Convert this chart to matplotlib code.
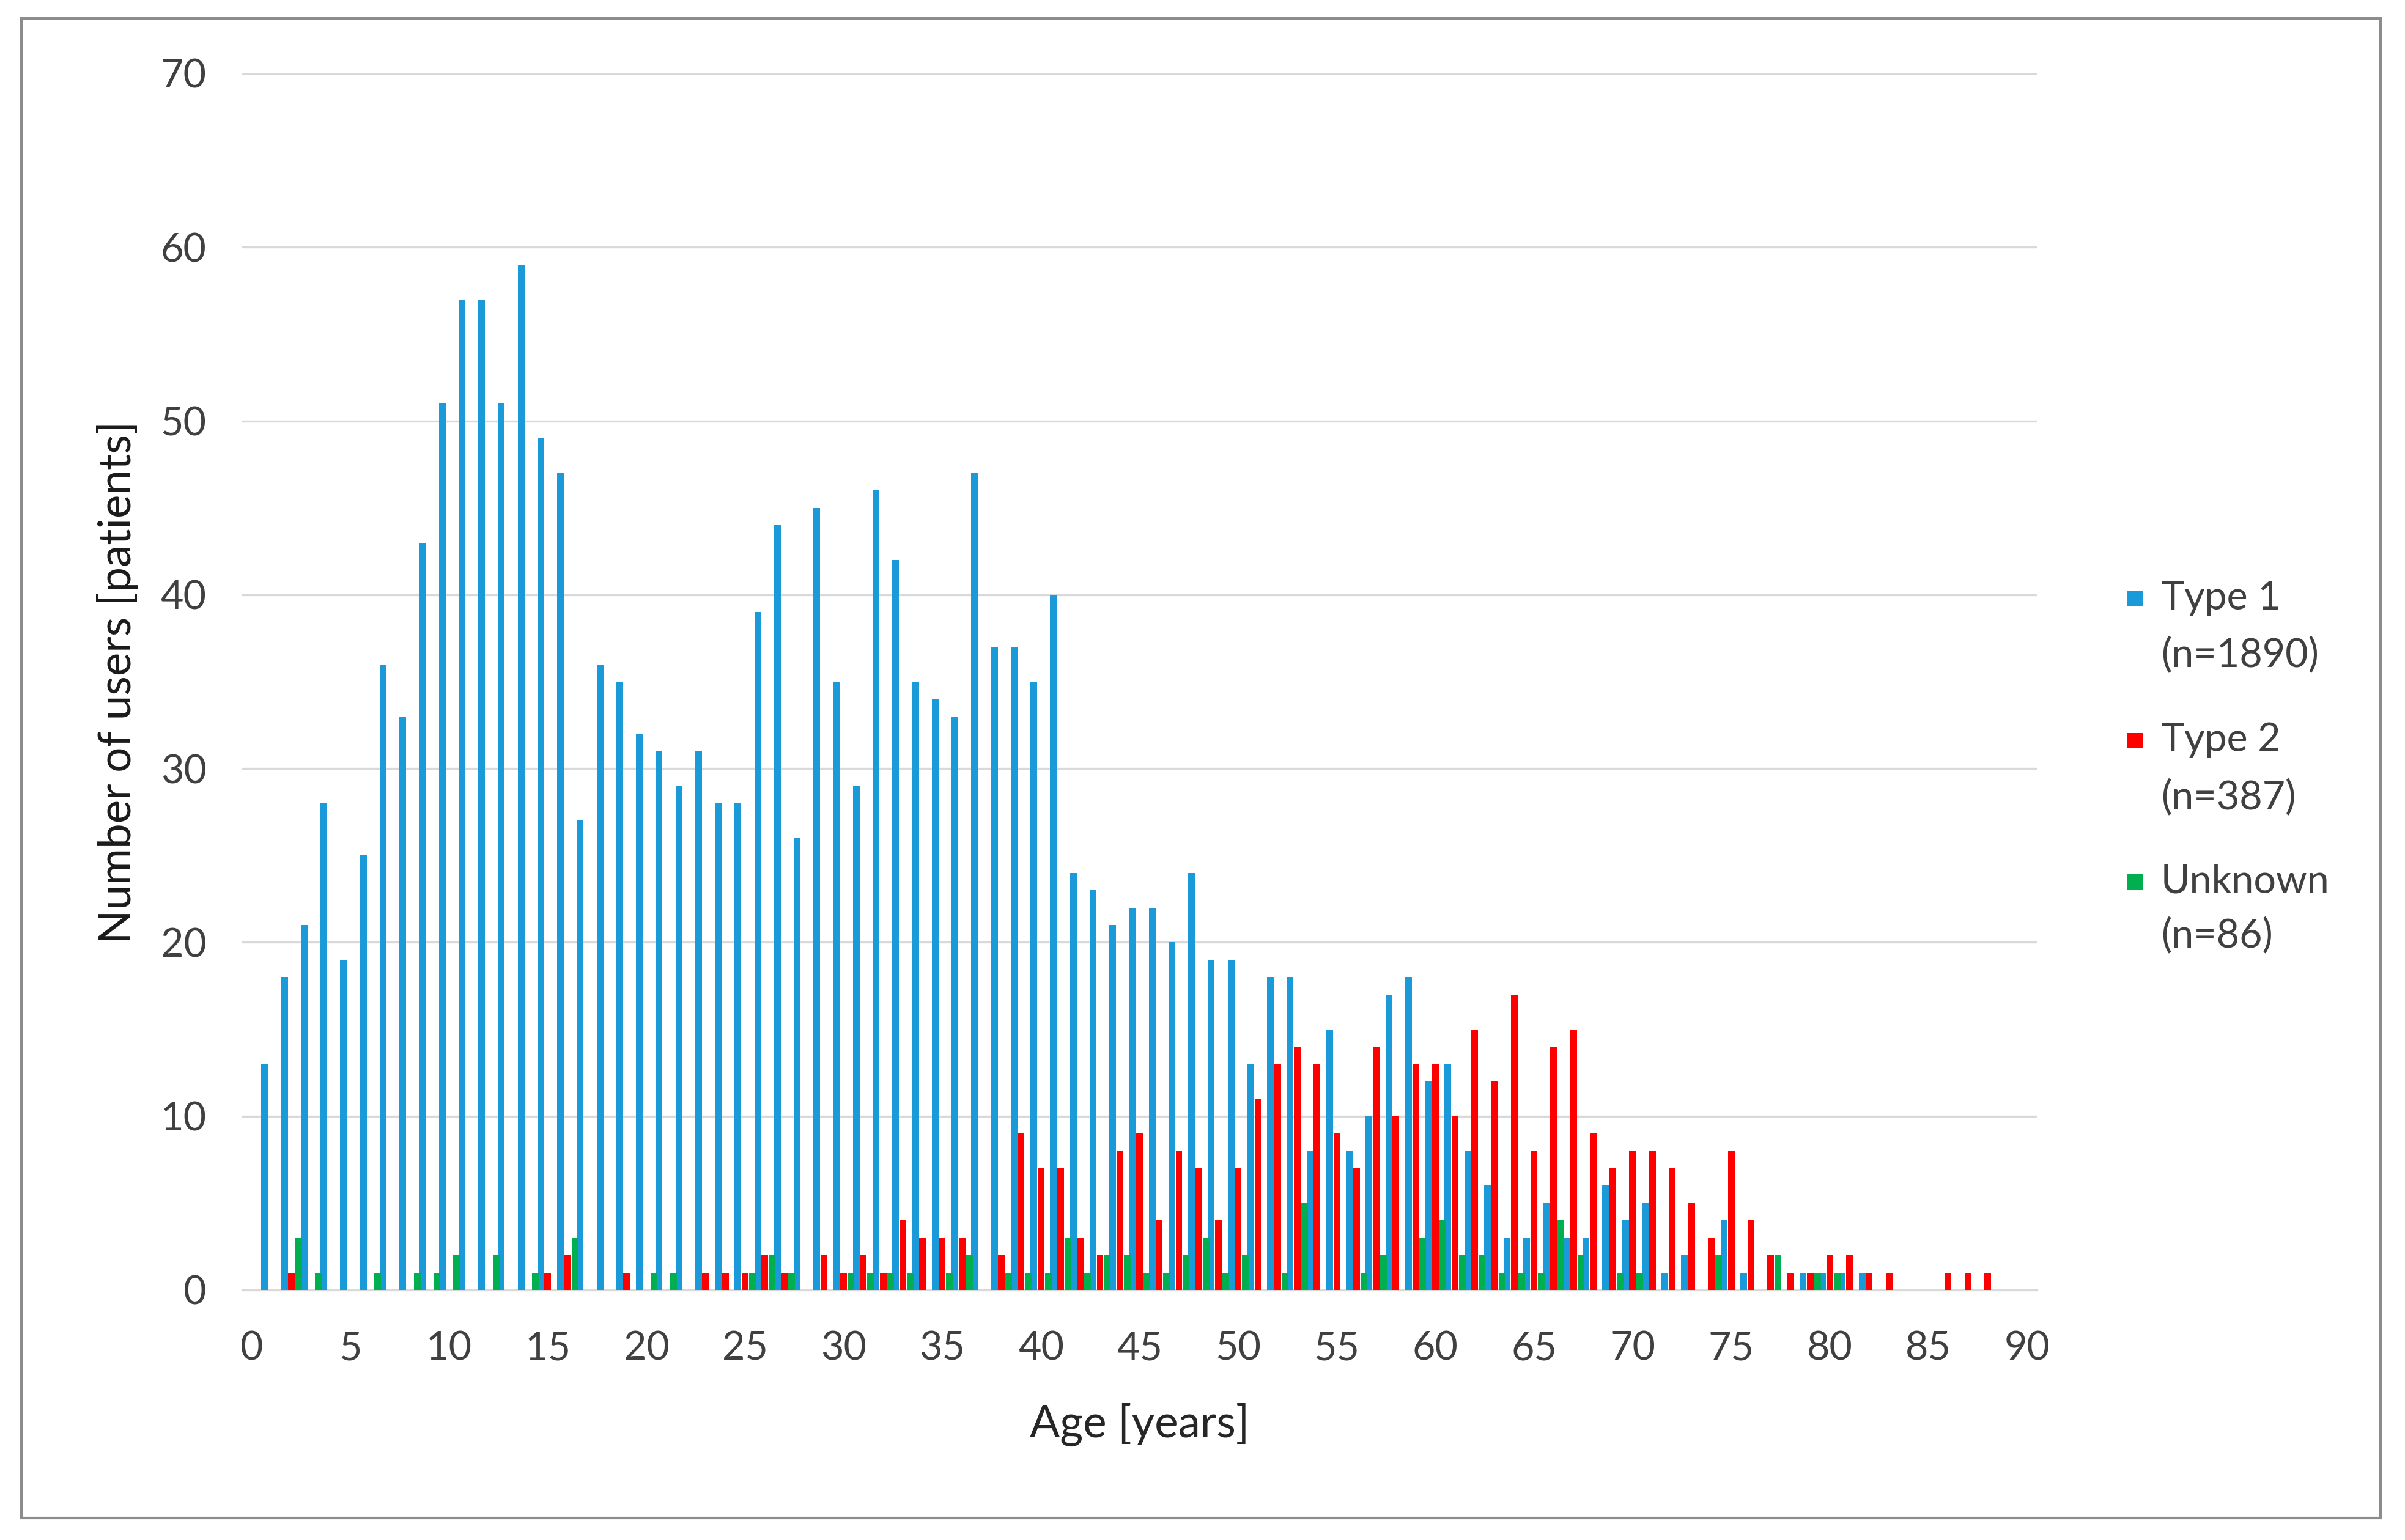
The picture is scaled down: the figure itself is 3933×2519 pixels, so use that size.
import numpy as np
import matplotlib
matplotlib.use("Agg")
import matplotlib.pyplot as plt
from matplotlib.patches import Rectangle

plt.rcParams['font.family'] = ['Lato', 'DejaVu Sans']

ages = list(range(0, 91))

type1 = [0, 13, 18, 21, 28, 19, 25, 36, 33, 43,
         51, 57, 57, 51, 59, 49, 47, 27, 36, 35,
         32, 31, 29, 31, 28, 28, 39, 44, 26, 45,
         35, 29, 46, 42, 35, 34, 33, 47, 37, 37,
         35, 40, 24, 23, 21, 22, 22, 20, 24, 19,
         19, 13, 18, 18, 8, 15, 8, 10, 17, 18,
         12, 13, 8, 6, 3, 3, 5, 3, 3, 6,
         4, 5, 1, 2, 0, 4, 1, 0, 0, 1,
         1, 1, 1, 0, 0, 0, 0, 0, 0, 0, 0]

type2 = [0, 0, 1, 0, 0, 0, 0, 0, 0, 0,
         0, 0, 0, 0, 0, 1, 2, 0, 0, 1,
         0, 0, 0, 1, 1, 1, 2, 1, 0, 2,
         1, 2, 1, 4, 3, 3, 3, 0, 2, 9,
         7, 7, 3, 2, 8, 9, 4, 8, 7, 4,
         7, 11, 13, 14, 13, 9, 7, 14, 10, 13,
         13, 10, 15, 12, 17, 8, 14, 15, 9, 7,
         8, 8, 7, 5, 3, 8, 4, 2, 1, 1,
         2, 2, 1, 1, 0, 0, 1, 1, 1, 0, 0]

unknown = [0, 0, 3, 1, 0, 0, 1, 0, 1, 1,
           2, 0, 2, 0, 1, 0, 3, 0, 0, 0,
           1, 1, 0, 0, 0, 1, 2, 1, 0, 0,
           1, 1, 1, 1, 0, 1, 2, 0, 1, 1,
           1, 3, 1, 2, 2, 1, 1, 2, 3, 1,
           2, 0, 1, 5, 0, 0, 1, 2, 0, 3,
           4, 2, 2, 1, 1, 1, 4, 2, 0, 1,
           1, 0, 0, 0, 2, 0, 0, 2, 0, 1,
           1, 0, 0, 0, 0, 0, 0, 0, 0, 0, 0]

series_names = ["Type 1", "Type 2", "Unknown"]
series_counts = ["(n=1890)", "(n=387)", "(n=86)"]
colors = ["#1A9AD9", "#FF0000", "#00B050"]

x_ticks = list(range(0, 91, 5))
y_ticks = list(range(0, 71, 10))

W, H = 3933, 2519
fig = plt.figure(figsize=(W / 300, H / 300), dpi=300)
ax = fig.add_axes([396 / W, 1 - 2110 / H, (3331 - 396) / W, (2110 - 120) / H])

x = np.array(ages, dtype=float)
bw = 0.34
offsets = [-0.36, 0.0, 0.37]
for vals, off, col, name in zip([type1, type2, unknown], offsets, colors, series_names):
    ax.bar(x + off, vals, width=bw, color=col, linewidth=0, label=name, zorder=3)

ax.set_xlim(-0.5, 90.5)
ax.set_ylim(0, 70)
ax.set_xticks(x_ticks)
ax.set_xticklabels([str(t) for t in x_ticks])
ax.set_yticks(y_ticks)
ax.set_yticklabels([str(t) for t in y_ticks])
ax.grid(axis='y', color='#D9D9D9', linewidth=0.8, zorder=0)
ax.set_axisbelow(True)
for s in ['top', 'right', 'left']:
    ax.spines[s].set_visible(False)
ax.spines['bottom'].set_color('#D9D9D9')
ax.spines['bottom'].set_linewidth(0.8)
ax.tick_params(axis='both', length=0, labelsize=15.5, colors='#404040')
ax.tick_params(axis='x', pad=16)
ax.tick_params(axis='y', pad=14)

ax.set_xlabel("Age [years]", fontsize=17.5, color='#262626')
ax.set_ylabel("Number of users [patients]", fontsize=17.5, color='#1A1A1A')
ax.xaxis.set_label_coords(0.5, (2110 - 2330) / 1990)
ax.xaxis.label.set_va('center')
ax.yaxis.set_label_coords((193 - 396) / 2935, 0.5)
ax.yaxis.label.set_va('center')

# legend (manual, marker aligned with first line)
text_x = 3534 / W
sq_x = 3491 / W
sq = 25
first_y = [978, 1211, 1442]
second_y = [1071, 1304, 1530]
for name, cnt, col, y1, y2 in zip(series_names, series_counts, colors, first_y, second_y):
    fig.patches.append(Rectangle((sq_x - sq / 2 / W, 1 - (y1 + sq / 2) / H), sq / W, sq / H,
                                 transform=fig.transFigure, facecolor=col, edgecolor='none'))
    fig.text(text_x, 1 - y1 / H, name, fontsize=15.5, color='#404040', va='center', ha='left')
    fig.text(text_x, 1 - y2 / H, cnt, fontsize=15.5, color='#404040', va='center', ha='left')

# outer frame
fig.patches.append(Rectangle((35 / W, 1 - 2483 / H), (3893 - 35) / W, (2483 - 30) / H,
                             transform=fig.transFigure, facecolor='none',
                             edgecolor='#8C8C8C', linewidth=1.0))

fig.savefig("out.png", dpi=300)
